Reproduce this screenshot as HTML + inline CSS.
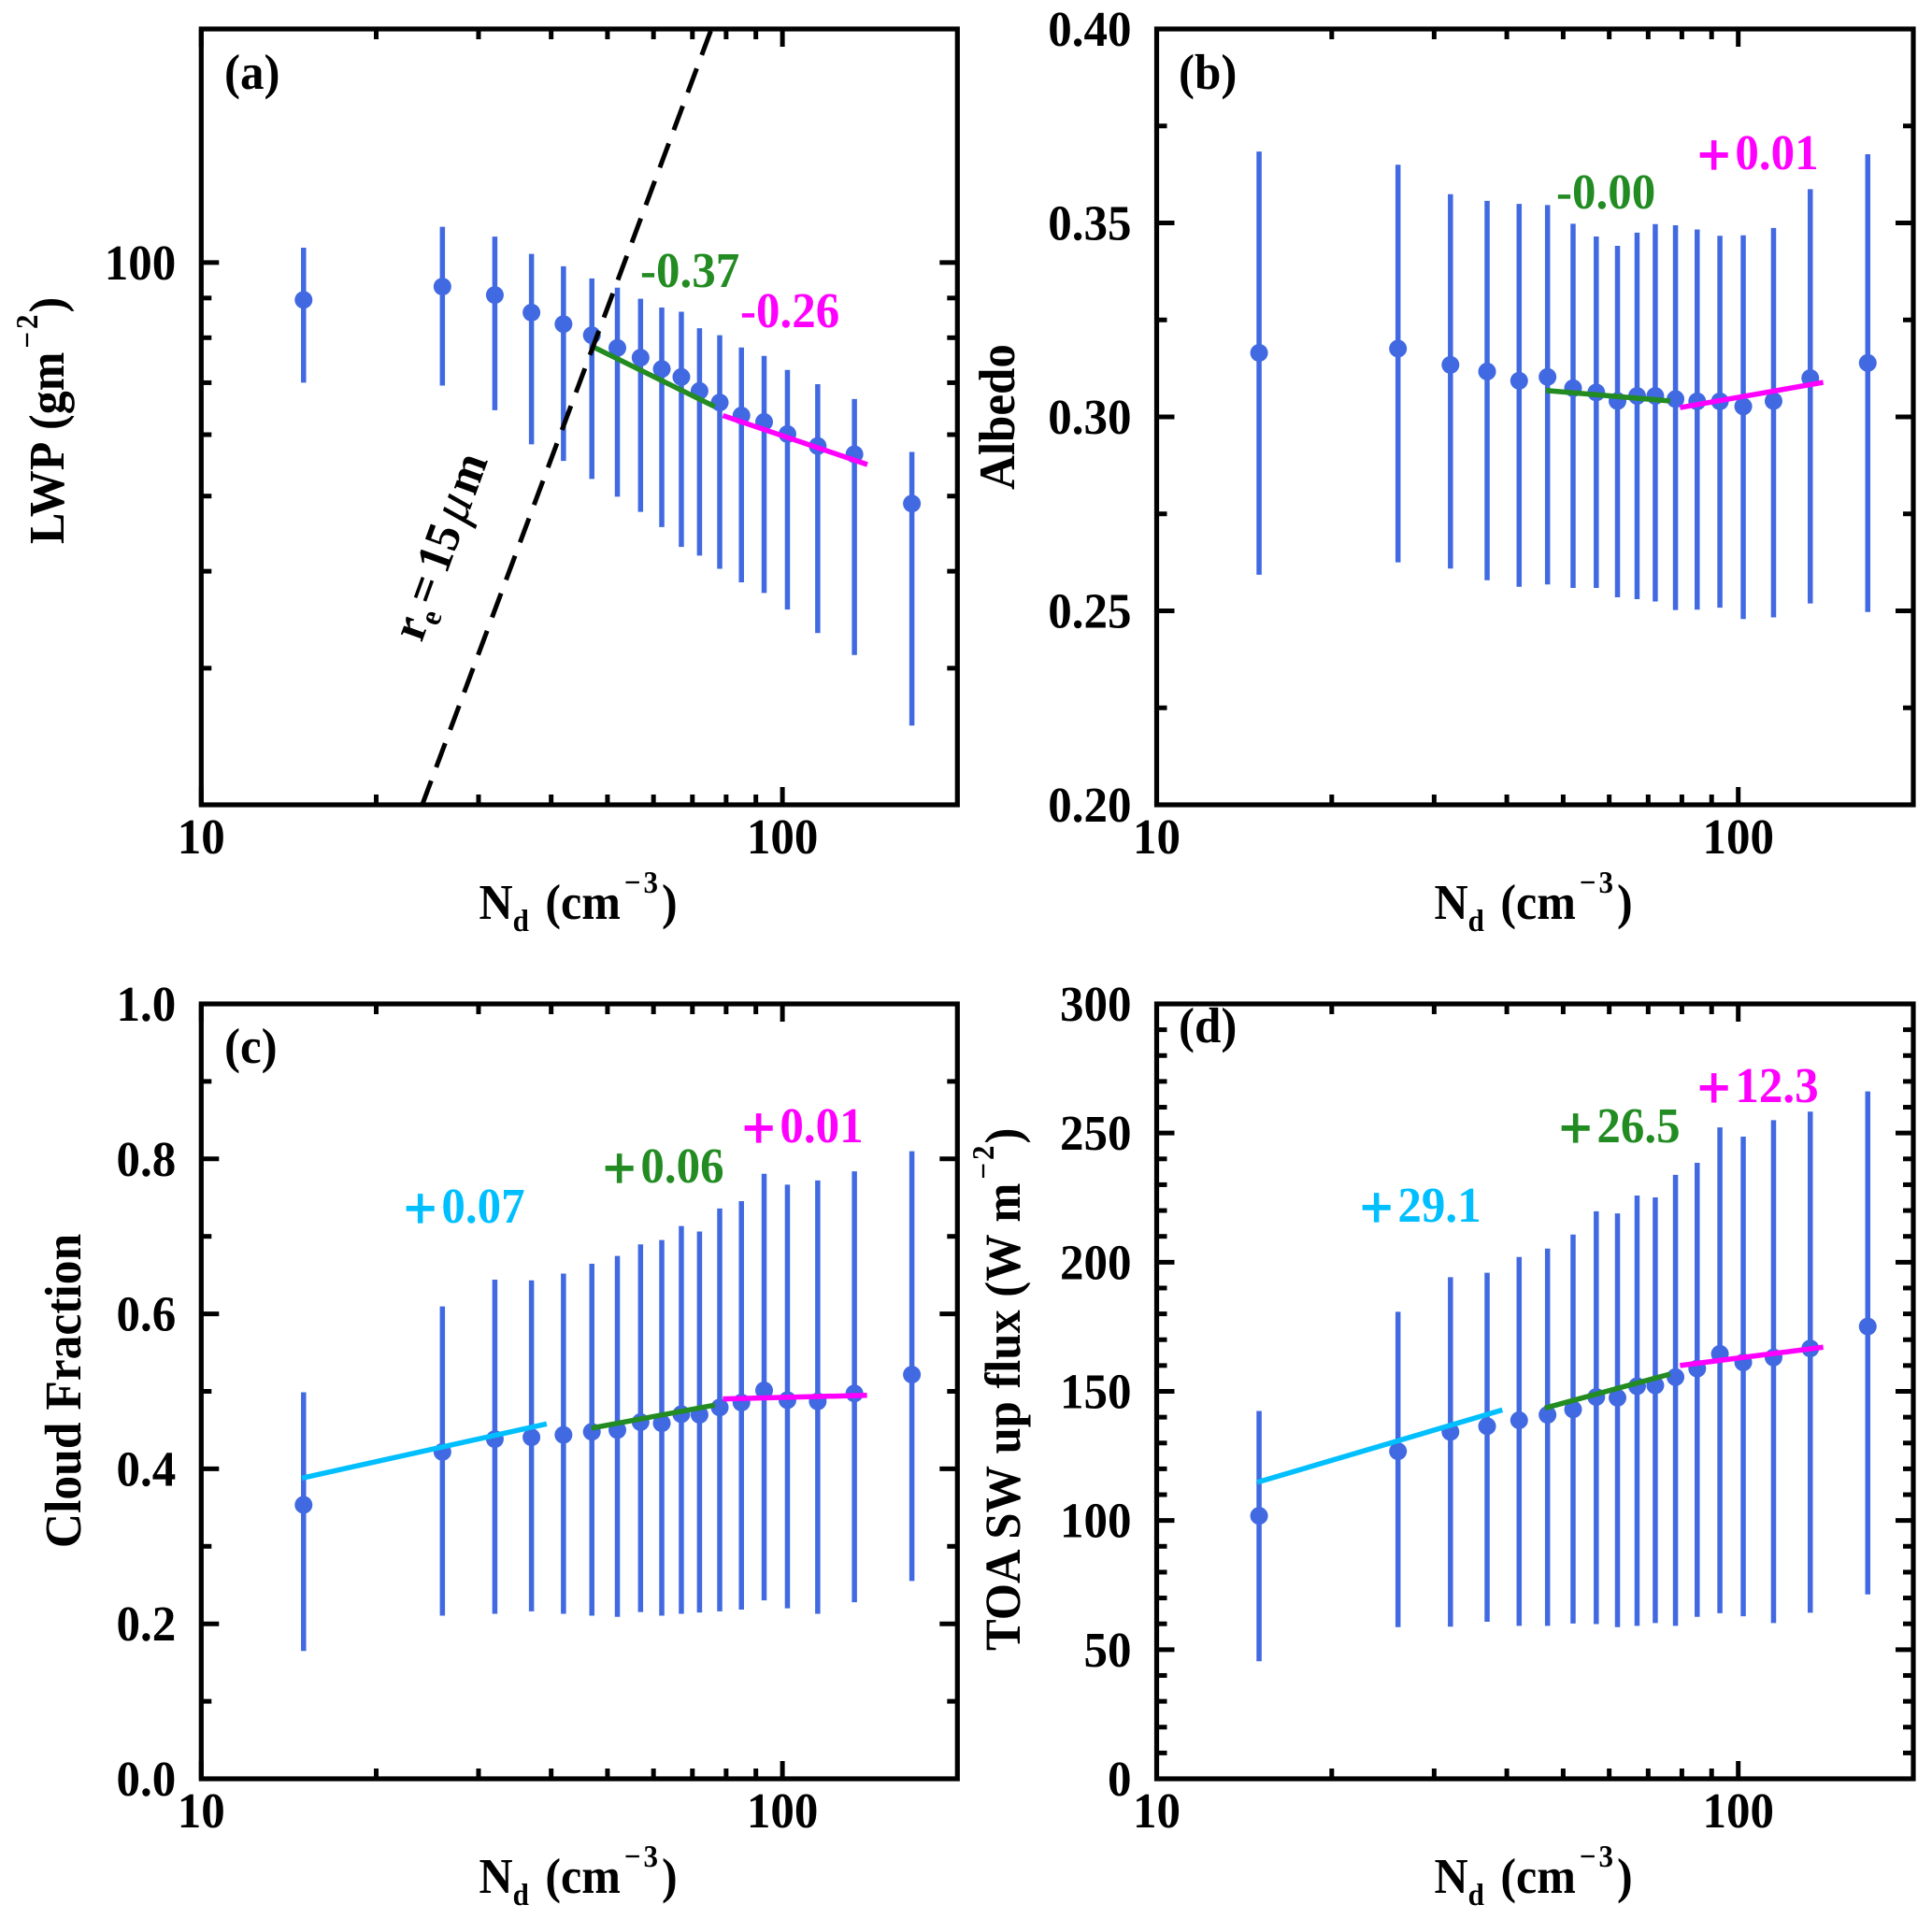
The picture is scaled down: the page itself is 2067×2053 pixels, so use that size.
<!DOCTYPE html>
<html><head><meta charset="utf-8"><title>Nd relationships</title>
<style>
html,body{margin:0;padding:0;background:#fff}
svg{display:block}
text{font-family:"Liberation Serif",serif;font-weight:bold;fill:#000;text-rendering:geometricPrecision}
.ann{font-size:51px}
.plus{font-size:62px;stroke-width:1.2px}
.lab{font-size:50px}
.sub{font-size:31px}
</style></head>
<body>
<svg id="fig" xmlns="http://www.w3.org/2000/svg" width="2067" height="2053" viewBox="0 0 2067 2053">
<rect width="2067" height="2053" fill="#fff"/>
<g id="marks"></g>

<text class="ann" transform="translate(240,95) scale(1,1.05)">(a)</text>
<text class="ann" transform="translate(1261,95) scale(1,1.05)">(b)</text>
<text class="ann" transform="translate(240,1137) scale(1,1.05)">(c)</text>
<text class="ann" transform="translate(1261,1115) scale(1,1.05)">(d)</text>

<text class="ann" transform="translate(685,307) scale(1,1.05)" style="fill:#228b22">-0.37</text>
<text class="ann" transform="translate(792,350) scale(1,1.05)" style="fill:#ff00ff">-0.26</text>
<text class="ann" transform="translate(1665,223) scale(1,1.05)" style="fill:#228b22">-0.00</text>
<text class="ann" transform="translate(1816,181) scale(1,1.05)" style="fill:#ff00ff"><tspan class="plus" dy="6" style="stroke:#ff00ff">+</tspan><tspan dx="5" dy="-6">0.01</tspan></text>
<text class="ann" transform="translate(432,1308) scale(1,1.05)" style="fill:#00bfff"><tspan class="plus" dy="6" style="stroke:#00bfff">+</tspan><tspan dx="5" dy="-6">0.07</tspan></text>
<text class="ann" transform="translate(645,1265) scale(1,1.05)" style="fill:#228b22"><tspan class="plus" dy="6" style="stroke:#228b22">+</tspan><tspan dx="5" dy="-6">0.06</tspan></text>
<text class="ann" transform="translate(794,1222) scale(1,1.05)" style="fill:#ff00ff"><tspan class="plus" dy="6" style="stroke:#ff00ff">+</tspan><tspan dx="5" dy="-6">0.01</tspan></text>
<text class="ann" transform="translate(1455,1307) scale(1,1.05)" style="fill:#00bfff"><tspan class="plus" dy="6" style="stroke:#00bfff">+</tspan><tspan dx="5" dy="-6">29.1</tspan></text>
<text class="ann" transform="translate(1668,1222) scale(1,1.05)" style="fill:#228b22"><tspan class="plus" dy="6" style="stroke:#228b22">+</tspan><tspan dx="5" dy="-6">26.5</tspan></text>
<text class="ann" transform="translate(1816,1179) scale(1,1.05)" style="fill:#ff00ff"><tspan class="plus" dy="6" style="stroke:#ff00ff">+</tspan><tspan dx="5" dy="-6">12.3</tspan></text>

<text class="lab" transform="translate(512.5,983) scale(1,1.07)">N<tspan class="sub" dy="12">d</tspan><tspan dx="5" dy="-12"> (cm</tspan><tspan class="sub" dx="4" dy="-26">−</tspan><tspan class="sub" dx="3">3</tspan><tspan dx="4" dy="26">)</tspan></text>
<text class="lab" transform="translate(1534.5,983) scale(1,1.07)">N<tspan class="sub" dy="12">d</tspan><tspan dx="5" dy="-12"> (cm</tspan><tspan class="sub" dx="4" dy="-26">−</tspan><tspan class="sub" dx="3">3</tspan><tspan dx="4" dy="26">)</tspan></text>
<text class="lab" transform="translate(512.5,2025) scale(1,1.07)">N<tspan class="sub" dy="12">d</tspan><tspan dx="5" dy="-12"> (cm</tspan><tspan class="sub" dx="4" dy="-26">−</tspan><tspan class="sub" dx="3">3</tspan><tspan dx="4" dy="26">)</tspan></text>
<text class="lab" transform="translate(1534.5,2025) scale(1,1.07)">N<tspan class="sub" dy="12">d</tspan><tspan dx="5" dy="-12"> (cm</tspan><tspan class="sub" dx="4" dy="-26">−</tspan><tspan class="sub" dx="3">3</tspan><tspan dx="4" dy="26">)</tspan></text>

<text class="lab" transform="translate(68,582) rotate(-90) scale(1,1.07)">LWP <tspan dx="3">(gm</tspan><tspan class="sub" dx="4" dy="-26">−</tspan><tspan class="sub" dx="3">2</tspan><tspan dx="2" dy="26">)</tspan></text>
<text class="lab" style="font-size:51px" text-anchor="middle" transform="translate(1085,446) rotate(-90) scale(1,1.07)">Albedo</text>
<text class="lab" style="font-size:51.5px" text-anchor="middle" transform="translate(86,1488) rotate(-90) scale(1,1.07)">Cloud Fraction</text>
<text class="lab" style="font-size:50.5px;word-spacing:1px" transform="translate(1091,1766) rotate(-90) scale(1,1.07)">TOA SW up flux (W m<tspan class="sub" dx="4" dy="-26">−</tspan><tspan class="sub" dx="3">2</tspan><tspan dx="2" dy="26">)</tspan></text>

<text class="lab" transform="translate(451,688) rotate(-70) scale(1,1.05)">r<tspan class="sub" dy="10">e</tspan><tspan dx="5" dy="-10">=</tspan><tspan dx="8">15</tspan><tspan dx="7" style="font-style:italic;font-weight:normal;font-size:56px">μ</tspan><tspan dx="4">m</tspan></text>
</svg>

<script>
// Shared x categories (droplet number bins)
const nd = [15,26,32,37,42,47,52,57,62,67,72,78,85,93,102,115,133,167];
const xMajorTicks = [10,100];
const xMinorTicks = [20,30,40,50,60,70,80,90];

// (a) LWP
const lwpMean = [89.5,93.1,90.8,86.2,83.3,80.6,77.6,75.4,72.9,71.2,68.3,66.0,63.5,62.3,60.1,58.0,56.6,48.9];
const lwpHigh = [104.5,111.2,108,102.6,98.9,95.4,92.8,89.8,87.5,86.4,82.3,80.6,77.7,75.8,72.7,69.7,66.7,57.0];
const lwpLow  = [70.0,69.4,64.5,58.3,55.5,52.6,49.9,47.7,45.6,43.0,41.9,40.3,38.7,37.5,35.7,33.3,31.2,25.3];
const lwpGreenX = [47,76.5];
const lwpGreenY = [78,65.2];
const lwpMagentaX = [79,140];
const lwpMagentaY = [63.5,54.9];
const reLineX = [24,75.3];
const reLineY = [20,199];
const lwpMajorTicks = [100];
const lwpMajorLabels = ['100'];
const lwpMinorTicks = [30,40,50,60,70,80,90];

// (b) Albedo
const albedoMean = [.3165,.3176,.3134,.3117,.3093,.3103,.3074,.3063,.3041,.3054,.3054,.3046,.304,.304,.3027,.3041,.31,.3139];
const albedoHigh = [.3684,.365,.3574,.3557,.3549,.3546,.3498,.3465,.3441,.3475,.3497,.3494,.3483,.3467,.3468,.3487,.3587,.3677];
const albedoLow  = [.2593,.2625,.2609,.2579,.2562,.2568,.2559,.2559,.2535,.253,.2524,.2502,.2503,.2508,.2479,.2483,.2519,.2497];
const albedoGreenX = [46.7,76.4];
const albedoGreenY = [.3068,.3041];
const albedoMagentaX = [79.4,140];
const albedoMagentaY = [.3024,.3089];
const albedoMajorTicks = [.2,.25,.3,.35,.4];
const albedoMajorLabels = ['0.20','0.25','0.30','0.35','0.40'];
const albedoMinorTicks = [.225,.275,.325,.375];

// (c) Cloud fraction
const cloudMean = [.3535,.4218,.4383,.4407,.4438,.4478,.4501,.4603,.4588,.4705,.4698,.4792,.4855,.5012,.4886,.487,.4973,.5216];
const cloudHigh = [.4988,.6096,.6441,.6433,.652,.6646,.6748,.6897,.6952,.7133,.7062,.736,.7455,.7808,.7667,.7722,.784,.8099];
const cloudLow  = [.165,.2105,.2129,.216,.2129,.2105,.209,.2152,.2105,.2129,.2145,.216,.2184,.2302,.22,.2129,.2278,.2553];
const cloudCyanX = [14.9,39.3];
const cloudCyanY = [.3881,.458];
const cloudGreenX = [46.9,76.5];
const cloudGreenY = [.4525,.4823];
const cloudMagentaX = [79,139.8];
const cloudMagentaY = [.4902,.4949];
const cloudMajorTicks = [0,.2,.4,.6,.8,1];
const cloudMajorLabels = ['0.0','0.2','0.4','0.6','0.8','1.0'];
const cloudMinorTicks = [.1,.3,.5,.7,.9];

// (d) TOA SW up flux
const fluxMean = [101.8,126.8,134.3,136.5,138.8,140.9,143,147.8,147.5,152,152.3,155.5,158.8,164.5,161.2,163.1,166.6,175.1];
const fluxHigh = [142.4,180.8,194.2,195.9,202,205.3,210.7,219.7,218.9,225.8,225.1,233.8,238.5,252.2,248.6,255,258.3,266.1];
const fluxLow  = [45.5,58.7,58.9,60.8,59.2,59.2,60.1,59.9,58.7,59.2,60.3,59.2,62.7,64.1,62.9,60.3,64.3,71.4];
const fluxCyanX = [14.9,39.3];
const fluxCyanY = [114.8,142.8];
const fluxGreenX = [46.5,76.4];
const fluxGreenY = [143.5,156.7];
const fluxMagentaX = [79.4,140];
const fluxMagentaY = [160,167.1];
const fluxMajorTicks = [0,50,100,150,200,250,300];
const fluxMajorLabels = ['0','50','100','150','200','250','300'];
const fluxMinorTicks = [10,20,30,40,60,70,80,90,110,120,130,140,160,170,180,190,210,220,230,240,260,270,280,290];

const SVGNS = 'http://www.w3.org/2000/svg';
const BLUE = '#4169e1', GREEN = '#228b22', MAGENTA = '#ff00ff', CYAN = '#00bfff';
const XMIN = 10, XMAX = 200;

function make(tag, attrs, name, parent) {
  const el = document.createElementNS(SVGNS, tag);
  for (const k in attrs) el.setAttribute(k, attrs[k]);
  
  
  parent.appendChild(el);
  return el;
}

function drawPanel(p) {
  const root = document.getElementById('marks');
  const g = make('g', {}, 'panel-' + p.id, root);
  const sx = v => p.left + (Math.log10(v) - Math.log10(XMIN)) / (Math.log10(XMAX) - Math.log10(XMIN)) * (p.right - p.left);
  const sy = p.logY
    ? v => p.bottom - (Math.log10(v) - Math.log10(p.yMin)) / (Math.log10(p.yMax) - Math.log10(p.yMin)) * (p.bottom - p.top)
    : v => p.bottom - (v - p.yMin) / (p.yMax - p.yMin) * (p.bottom - p.top);

  // error bars and points
  const series = make('g', {}, 'series-' + p.id, g);
  nd.forEach((x, i) => {
    make('line', {x1: sx(x), x2: sx(x), y1: sy(p.low[i]), y2: sy(p.high[i]), stroke: BLUE, 'stroke-width': 5.5}, 'error-bar-' + p.id, series);
    make('circle', {cx: sx(x), cy: sy(p.mean[i]), r: 9.5, fill: BLUE}, 'point-' + p.id, series);
  });

  // fits
  p.fits.forEach(f => {
    make('line', {x1: sx(f.x[0]), y1: sy(f.y[0]), x2: sx(f.x[1]), y2: sy(f.y[1]), stroke: f.color, 'stroke-width': 5.5}, f.name, g);
  });
  if (p.dashX) {
    make('line', {x1: sx(p.dashX[0]), y1: sy(p.dashY[0]), x2: sx(p.dashX[1]), y2: sy(p.dashY[1]), stroke: '#000', 'stroke-width': 5, 'stroke-dasharray': '27.5 15.3'}, 're-15um-dashed-line', g);
  }

  // ticks
  const ticks = make('g', {stroke: '#000'}, 'ticks-' + p.id, g);
  const MAJ = 19, MIN = 11, TW = 5;
  xMajorTicks.forEach(v => {
    make('line', {x1: sx(v), x2: sx(v), y1: p.bottom, y2: p.bottom - MAJ, 'stroke-width': TW}, 'x-major-tick', ticks);
    make('line', {x1: sx(v), x2: sx(v), y1: p.top, y2: p.top + MAJ, 'stroke-width': TW}, 'x-major-tick-top', ticks);
    const t = make('text', {'text-anchor': 'middle', 'font-size': 51, transform: 'translate(' + sx(v) + ',' + (p.bottom + 52) + ') scale(1,1.05)'}, 'x-tick-label', g);
    t.textContent = String(v);
  });
  xMinorTicks.forEach(v => {
    make('line', {x1: sx(v), x2: sx(v), y1: p.bottom, y2: p.bottom - MIN, 'stroke-width': TW}, 'x-minor-tick', ticks);
    make('line', {x1: sx(v), x2: sx(v), y1: p.top, y2: p.top + MIN, 'stroke-width': TW}, 'x-minor-tick-top', ticks);
  });
  p.major.forEach((v, i) => {
    make('line', {x1: p.left, x2: p.left + MAJ, y1: sy(v), y2: sy(v), 'stroke-width': TW}, 'y-major-tick', ticks);
    make('line', {x1: p.right, x2: p.right - MAJ, y1: sy(v), y2: sy(v), 'stroke-width': TW}, 'y-major-tick-right', ticks);
    const t = make('text', {'text-anchor': 'end', 'font-size': 51, transform: 'translate(' + (p.left - 27) + ',' + (sy(v) + 18) + ') scale(1,1.05)'}, 'y-tick-label', g);
    t.textContent = p.labels[i];
  });
  p.minor.forEach(v => {
    make('line', {x1: p.left, x2: p.left + MIN, y1: sy(v), y2: sy(v), 'stroke-width': TW}, 'y-minor-tick', ticks);
    make('line', {x1: p.right, x2: p.right - MIN, y1: sy(v), y2: sy(v), 'stroke-width': TW}, 'y-minor-tick-right', ticks);
  });

  // frame
  make('rect', {x: p.left, y: p.top, width: p.right - p.left, height: p.bottom - p.top, fill: 'none', stroke: '#000', 'stroke-width': 5.2}, 'axes-frame-' + p.id, g);
}

drawPanel({id: 'a', left: 215.3, right: 1024.3, top: 31, bottom: 861, logY: true, yMin: 20, yMax: 200,
  mean: lwpMean, high: lwpHigh, low: lwpLow, major: lwpMajorTicks, labels: lwpMajorLabels, minor: lwpMinorTicks,
  dashX: reLineX, dashY: reLineY,
  fits: [{x: lwpGreenX, y: lwpGreenY, color: GREEN, name: 'lwp-fit-green'}, {x: lwpMagentaX, y: lwpMagentaY, color: MAGENTA, name: 'lwp-fit-magenta'}]});
drawPanel({id: 'b', left: 1237.5, right: 2047, top: 31, bottom: 861, yMin: .2, yMax: .4,
  mean: albedoMean, high: albedoHigh, low: albedoLow, major: albedoMajorTicks, labels: albedoMajorLabels, minor: albedoMinorTicks,
  fits: [{x: albedoGreenX, y: albedoGreenY, color: GREEN, name: 'albedo-fit-green'}, {x: albedoMagentaX, y: albedoMagentaY, color: MAGENTA, name: 'albedo-fit-magenta'}]});
drawPanel({id: 'c', left: 215.3, right: 1024.3, top: 1074, bottom: 1903, yMin: 0, yMax: 1,
  mean: cloudMean, high: cloudHigh, low: cloudLow, major: cloudMajorTicks, labels: cloudMajorLabels, minor: cloudMinorTicks,
  fits: [{x: cloudCyanX, y: cloudCyanY, color: CYAN, name: 'cloud-fit-cyan'}, {x: cloudGreenX, y: cloudGreenY, color: GREEN, name: 'cloud-fit-green'}, {x: cloudMagentaX, y: cloudMagentaY, color: MAGENTA, name: 'cloud-fit-magenta'}]});
drawPanel({id: 'd', left: 1237.5, right: 2047, top: 1074, bottom: 1903, yMin: 0, yMax: 300,
  mean: fluxMean, high: fluxHigh, low: fluxLow, major: fluxMajorTicks, labels: fluxMajorLabels, minor: fluxMinorTicks,
  fits: [{x: fluxCyanX, y: fluxCyanY, color: CYAN, name: 'flux-fit-cyan'}, {x: fluxGreenX, y: fluxGreenY, color: GREEN, name: 'flux-fit-green'}, {x: fluxMagentaX, y: fluxMagentaY, color: MAGENTA, name: 'flux-fit-magenta'}]});
</script>
</body></html>
